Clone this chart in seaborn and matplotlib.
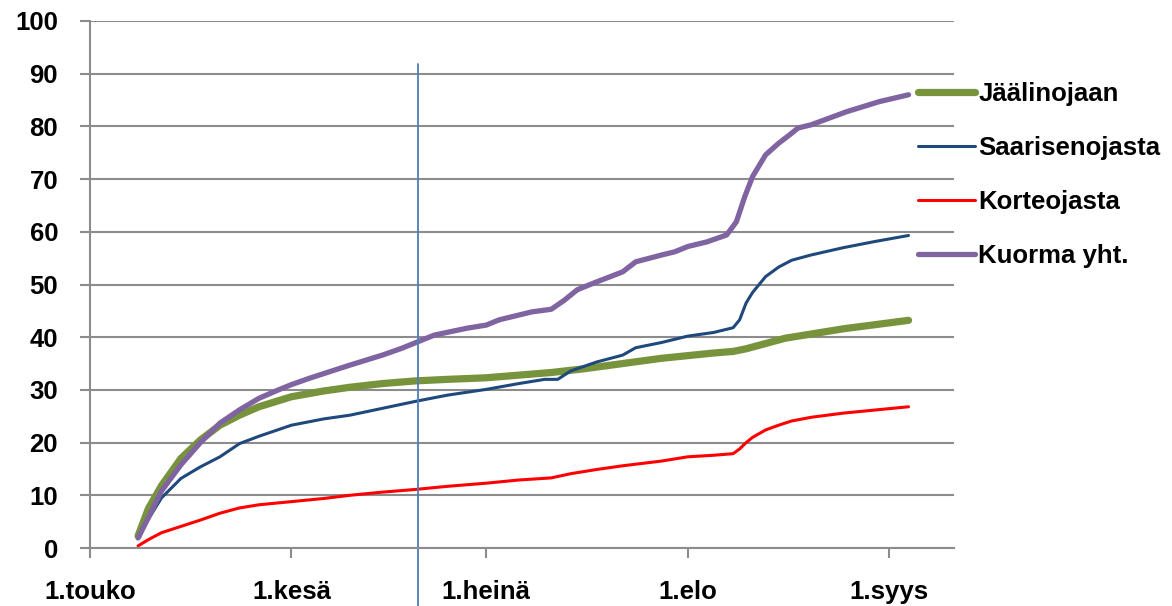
import numpy as np
import pandas as pd
import matplotlib
matplotlib.use('Agg')
import matplotlib.pyplot as plt
import seaborn as sns

# --- data (day 0 = 1.touko) ---
jaali_paiva = [7.4, 9, 11, 14, 17, 20, 23, 26, 31, 36, 40, 45, 50, 55, 61, 66, 71, 76, 82,
               88, 92, 96, 99, 101, 104, 107, 111, 116, 121, 126]
jaali_arvo = [2.3, 7.5, 11.8, 17.0, 20.5, 23.3, 25.2, 26.8, 28.7, 29.8, 30.5, 31.2, 31.7, 32.0,
              32.3, 32.8, 33.3, 34.0, 35.0, 36.0, 36.5, 37.0, 37.3, 37.8, 38.8, 39.8, 40.6,
              41.6, 42.4, 43.2]

saari_paiva = [7.4, 9, 11, 14, 17, 20, 23, 26, 31, 36, 40, 45, 50, 55, 61, 66, 70, 72, 74, 78,
               82, 84, 88, 92, 96, 99, 100, 101, 102, 104, 106, 108, 111, 116, 121, 126]
saari_arvo = [1.9, 5.5, 9.5, 13.2, 15.4, 17.3, 19.8, 21.2, 23.3, 24.5, 25.2, 26.5, 27.8, 29.0,
              30.1, 31.2, 32.0, 32.0, 33.6, 35.3, 36.6, 38.0, 39.0, 40.2, 40.9, 41.8, 43.3,
              46.5, 48.5, 51.5, 53.3, 54.6, 55.6, 57.0, 58.2, 59.3]

korte_paiva = [7.4, 9, 11, 14, 17, 20, 23, 26, 31, 36, 40, 45, 50, 55, 61, 66, 71, 74, 78, 82,
               88, 92, 96, 99, 100, 101, 102, 104, 106, 108, 111, 116, 121, 126]
korte_arvo = [0.4, 1.6, 2.9, 4.1, 5.3, 6.6, 7.6, 8.2, 8.8, 9.4, 10.0, 10.6, 11.1, 11.7, 12.3,
              12.9, 13.3, 14.1, 14.9, 15.6, 16.5, 17.3, 17.6, 17.9, 18.8, 20.0, 21.0, 22.4,
              23.3, 24.1, 24.8, 25.6, 26.2, 26.8]

kuorma_paiva = [7.4, 9, 11, 14, 17, 20, 23, 26, 29, 31, 34, 37, 40, 45, 48, 50, 53, 58, 61, 63,
                68, 71, 73, 75, 78, 82, 84, 88, 90, 92, 95, 98, 99.5, 100.8, 102, 104, 106,
                107.7, 109, 111, 116.5, 121.5, 126]
kuorma_arvo = [1.9, 5.8, 10.8, 15.8, 20.0, 23.7, 26.2, 28.4, 30.0, 31.0, 32.3, 33.5, 34.7, 36.6,
               37.9, 38.9, 40.4, 41.7, 42.3, 43.3, 44.8, 45.3, 47.0, 49.0, 50.5, 52.4, 54.3,
               55.6, 56.2, 57.2, 58.1, 59.4, 61.9, 66.7, 70.5, 74.6, 76.8, 78.4, 79.7, 80.3,
               82.8, 84.7, 86.0]

kk_paiva = [0, 31, 61, 92, 123]
kk_nimet = ['1.touko', '1.kesä', '1.heinä', '1.elo', '1.syys']
raja_paiva = 50.5  # vertical marker

sns.set_style('white')
plt.rcParams['font.family'] = ['Liberation Sans', 'DejaVu Sans']
plt.rcParams['font.weight'] = 'bold'

fig = plt.figure(figsize=(11.72, 6.06), dpi=100)
ax = fig.add_axes([90 / 1172, 1 - 548 / 606, (954 - 90) / 1172, (548 - 21) / 606])

grid_col = '#8c8c8c'
sarjat = [
    ('Jäälinojaan', jaali_paiva, jaali_arvo, '#77933C', 5.2),
    ('Saarisenojasta', saari_paiva, saari_arvo, '#1F497D', 2.2),
    ('Korteojasta', korte_paiva, korte_arvo, '#FF0000', 2.2),
    ('Kuorma yht.', kuorma_paiva, kuorma_arvo, '#8064A2', 3.8),
]
for nimi, x, y, vari, lw in sarjat:
    df = pd.DataFrame({'paiva': x, 'arvo': y})
    sns.lineplot(data=df, x='paiva', y='arvo', color=vari, linewidth=lw, label=nimi,
                 ax=ax, solid_capstyle='round')

ax.axvline(raja_paiva, ymin=-0.12, ymax=0.918, color='#4A7EBB', linewidth=1.3, clip_on=False)

ax.set_xlim(0, 133)
ax.set_ylim(0, 100)
ax.set_yticks(np.arange(0, 101, 10))
ax.set_xticks(kk_paiva)
ax.set_xticklabels(kk_nimet)
ax.set_xlabel('')
ax.set_ylabel('')
ax.yaxis.grid(True, color=grid_col, linewidth=1.5)
ax.set_axisbelow(True)
for s in ['top', 'right']:
    ax.spines[s].set_visible(False)
for s in ['left', 'bottom']:
    ax.spines[s].set_color(grid_col)
    ax.spines[s].set_linewidth(1.5)
ax.tick_params(axis='both', which='major', length=7, width=1.5, color=grid_col,
               labelsize=18.5, labelcolor='black', direction='out', bottom=True, left=True)
ax.tick_params(axis='y', pad=16)
ax.tick_params(axis='x', pad=16)
for lab in ax.get_xticklabels() + ax.get_yticklabels():
    lab.set_fontweight('bold')

ax.legend(loc='upper left', bbox_to_anchor=(918 / 1172, 1 - 82 / 606),
          bbox_transform=fig.transFigure, frameon=False, borderpad=0, borderaxespad=0,
          handlelength=2.2, handletextpad=0.15, labelspacing=1.17, labelcolor='black',
          prop={'size': 18.5, 'weight': 'bold'})

fig.savefig('out.png', dpi=100)
